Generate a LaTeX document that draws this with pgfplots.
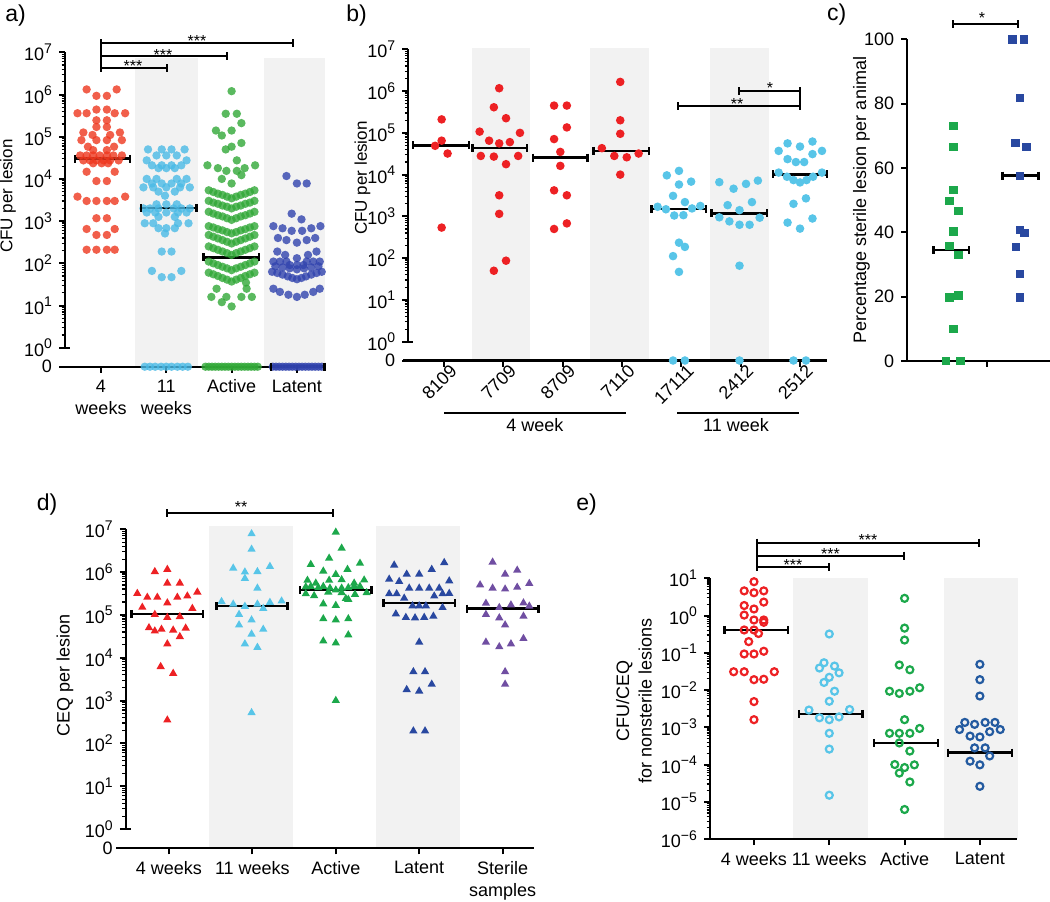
\documentclass[border=0pt]{standalone}
\usepackage{fontspec}
\setmainfont{Liberation Sans}
\usepackage{pgfplots}
\pgfplotsset{compat=1.18}

\definecolor{bandgray}{RGB}{242,242,242}
\definecolor{aRed}{RGB}{238,55,30}
\definecolor{aBlue}{RGB}{74,186,230}
\definecolor{aGreen}{RGB}{49,168,55}
\definecolor{aNavy}{RGB}{49,67,174}
\definecolor{pRed}{RGB}{237,33,36}
\definecolor{pBlue}{RGB}{88,197,232}
\definecolor{pGreen}{RGB}{28,168,75}
\definecolor{pNavy}{RGB}{41,72,160}
\definecolor{pPurple}{RGB}{112,78,162}
\definecolor{eBlue}{RGB}{35,90,160}

% power of ten as a tick label, in the text font
\newcommand\pw[1]{10\raisebox{0.42em}{\fontsize{7}{7}\selectfont #1}}

\pgfplotsset{
  panel/.style={scale only axis, clip=false, anchor=south west,
    axis x line*=bottom, axis y line*=left, axis line style={draw=none},
    tick align=outside, major tick length=3pt, minor tick length=1.7pt,
    major tick style={black, line width=1pt},
    minor tick style={black, line width=0.6pt},
    tick label style={font=\fontsize{9}{11}\selectfont},
    xticklabel style={align=center}},
  logten/.style={ymin=0.3548, ymax=1e7,
    ytick={0.3548,1,10,100,1000,10000,100000,1000000,10000000},
    yticklabels={0,\pw{0},\pw{1},\pw{2},\pw{3},\pw{4},\pw{5},\pw{6},\pw{7}},
    minor ytick={2,3,4,5,6,7,8,9,20,30,40,50,60,70,80,90,200,300,400,500,600,700,800,900,
      2000,3000,4000,5000,6000,7000,8000,9000,2e4,3e4,4e4,5e4,6e4,7e4,8e4,9e4,
      2e5,3e5,4e5,5e5,6e5,7e5,8e5,9e5,2e6,3e6,4e6,5e6,6e6,7e6,8e6,9e6}},
  adot/.style={only marks, mark=*, mark size=2.1pt, mark options={draw=#1, draw opacity=0, fill=#1, fill opacity=0.8}},
  bdot/.style={only marks, mark=*, mark size=2.15pt, mark options={draw=#1, draw opacity=0, fill=#1}},
  csq/.style={only marks, mark=square*, mark size=2.1pt, mark options={draw=#1, draw opacity=0, fill=#1}},
  dtri/.style={only marks, mark=triangle*, mark size=2.4pt, mark options={draw=#1, draw opacity=0, fill=#1}},
  ering/.style={only marks, mark=o, mark size=1.75pt, mark options={draw=#1, line width=1.1pt, fill=none}},
  med/.style={black, line width=1.3pt, mark=|, mark size=2pt, mark options={line width=1.2pt}},
}

\begin{document}
\begin{tikzpicture}
\path[use as bounding box] (0,0) rectangle (525pt,-450.5pt);

% shaded columns and axis lines, in pixel units of the reference
\begin{scope}[x=0.5pt,y=-0.5pt]
\fill[bandgray] (135,58) rectangle (198,366.7);
\fill[bandgray] (264.3,58) rectangle (325,366.7);
\fill[bandgray] (472,48) rectangle (530,360.5);
\fill[bandgray] (590,48) rectangle (649,360.5);
\fill[bandgray] (710,48) rectangle (769,360.5);
\fill[bandgray] (208.9,525.8) rectangle (292.8,848.3);
\fill[bandgray] (375.9,525.8) rectangle (459.8,848.3);
\fill[bandgray] (793,578.3) rectangle (868,839);
\fill[bandgray] (944,578.3) rectangle (1018,839);
\begin{scope}[line width=1.1pt]
\draw (65,52.3) -- (65,347.7);  \draw (60,347.7) -- (70,347.7);  \draw (59,366.7) -- (325,366.7);
\draw (408.3,49.3) -- (408.3,341.7);  \draw (403.3,341.7) -- (413.3,341.7);  \draw (403,360.5) -- (827,360.5);
\draw (907.3,39.3) -- (907.3,361);  \draw (907.3,361) -- (1050,361);  \draw (986.7,361) -- (986.7,367);
\draw (125.8,529.2) -- (125.8,829);  \draw (120.8,829) -- (130.8,829);  \draw (116,848.3) -- (534.3,848.3);
\draw (710,578.3) -- (710,839);  \draw (710,839) -- (1017,839);
\end{scope}
\end{scope}

% a) CFU per lesion
\begin{axis}[ymode=log, panel, logten, at={(32.5pt,-183.35pt)}, width=130pt, height=157.2pt,
  xmin=0.4487, xmax=4.4303, xtick={1,2,3,4},
  xticklabels={{4\\weeks},{11\\weeks},Active,Latent}]
\addplot[adot=aRed] coordinates {
(0.78,1.32e6) (1.24,1.32e6) (0.93,9.3e5) (1.09,9.3e5) (0.93,4.4e5) (1.09,4.4e5)
(0.64,3.6e5) (0.78,3.6e5) (1.21,3.6e5) (1.37,3.6e5) (0.93,2.45e5) (1.09,2.45e5)
(0.93,1.7e5) (1.09,1.7e5) (0.73,1.26e5) (1.29,1.26e5) (0.87,1.1e5) (1.14,1.1e5)
(0.70,8.3e4) (0.93,8.3e4) (1.09,8.3e4) (1.32,8.3e4) (0.80,5.8e4) (1.20,5.8e4)
(0.88,4.8e4) (1.09,4.8e4)
(0.68,3.6e4) (0.78,3.6e4) (0.88,3.6e4) (0.98,3.6e4) (1.09,3.6e4) (1.19,3.6e4) (1.32,3.6e4)
(0.73,2.75e4) (0.83,2.75e4) (0.93,2.75e4) (1.04,2.75e4) (1.14,2.75e4) (1.27,2.75e4)
(0.88,2.35e4) (1.01,2.35e4) (1.11,2.35e4) (0.78,1.48e4) (1.21,1.48e4)
(0.93,8.9e3) (1.09,8.9e3) (0.64,3.8e3) (1.37,3.8e3)
(0.78,3.0e3) (0.93,3.0e3) (1.09,3.0e3) (1.21,3.0e3) (0.93,1.17e3) (1.09,1.17e3)
(0.78,650) (1.21,650) (0.93,470) (1.09,470)
(0.78,210) (0.93,210) (1.09,210) (1.21,210)
};
\addplot[adot=aBlue] coordinates {
(1.72,5e4) (1.93,5e4) (2.08,5e4) (2.28,5e4) (1.85,3.6e4) (2.00,3.6e4) (2.16,3.6e4)
(1.70,2.75e4) (2.31,2.75e4) (1.78,2.1e4) (1.93,2.1e4) (2.08,2.1e4) (2.23,2.1e4)
(1.88,1.8e4) (2.00,1.8e4) (2.13,1.8e4) (1.70,1e4) (1.85,1e4) (2.16,1e4) (2.31,1e4)
(1.78,7.8e3) (1.93,7.8e3) (2.08,7.8e3) (2.23,7.8e3)
(1.65,6.3e3) (1.80,6.3e3) (2.00,6.3e3) (2.21,6.3e3) (2.36,6.3e3)
(1.88,5e3) (2.13,5e3) (1.98,4e3) (1.85,2.5e3) (2.00,2.5e3) (2.16,2.5e3)
(1.65,2e3) (1.75,2e3) (1.88,2e3) (2.11,2e3) (2.23,2e3) (2.36,2e3)
(1.70,1.6e3) (1.83,1.6e3) (2.00,1.6e3) (2.18,1.6e3) (2.31,1.6e3)
(1.88,1.26e3) (2.13,1.26e3) (1.67,890) (1.80,890) (2.18,890) (2.34,890)
(1.88,680) (2.00,680) (2.13,680) (1.98,510) (1.93,190) (2.08,190)
(1.78,66) (2.23,66) (1.93,47) (2.08,47)
(1.67,0.3548) (1.75,0.3548) (1.83,0.3548) (1.92,0.3548) (2.00,0.3548) (2.08,0.3548) (2.17,0.3548) (2.25,0.3548) (2.33,0.3548)
};
\addplot[adot=aGreen] coordinates {
(3.00,1.2e6) (2.91,3.5e5) (3.08,3.5e5) (3.15,2.1e5) (2.76,1.4e5) (3.00,1.4e5) (2.85,1.07e5)
(3.15,7.1e4) (3.00,5.8e4) (2.91,5.0e4) (3.08,2.75e4) (2.63,2.1e4) (3.36,2.1e4)
(2.79,1.8e4) (3.20,1.8e4) (2.92,1.55e4) (3.08,1.55e4) (3.15,1.23e4) (2.85,1.0e4) (3.00,7.8e3)
(2.65,5370) (2.72,4900) (2.79,4470) (2.86,4170) (2.93,3800) (3.00,3470) (3.07,3800) (3.14,4170) (3.21,4470) (3.28,4900) (3.35,5370)
(2.65,3020) (2.72,2750) (2.79,2570) (2.86,2340) (2.93,2190) (3.00,2000) (3.07,2190) (3.14,2340) (3.21,2570) (3.28,2750) (3.35,3020)
(2.65,1660) (2.72,1510) (2.79,1380) (2.86,1290) (2.93,1170) (3.00,1070) (3.07,1170) (3.14,1290) (3.21,1380) (3.28,1510) (3.35,1660)
(2.65,759) (2.72,708) (2.79,646) (2.86,603) (2.93,550) (3.00,513) (3.07,550) (3.14,603) (3.21,646) (3.28,708) (3.35,759)
(2.65,468) (2.72,427) (2.79,389) (2.86,355) (2.93,324) (3.00,295) (3.07,324) (3.14,355) (3.21,389) (3.28,427) (3.35,468)
(2.65,251) (2.72,229) (2.79,209) (2.86,191) (2.93,174) (3.00,158) (3.07,174) (3.14,191) (3.21,209) (3.28,229) (3.35,251)
(2.65,110) (2.72,100) (2.79,91) (2.86,83) (2.93,76) (3.00,69) (3.07,76) (3.14,83) (3.21,91) (3.28,100) (3.35,110)
(2.65,60) (2.72,55) (2.79,50) (2.86,45) (2.93,41) (3.00,37) (3.07,41) (3.14,45) (3.21,50) (3.28,55) (3.35,60)
(3.22,35) (2.77,25) (3.23,25) (2.69,16) (2.92,16) (3.15,16) (3.31,16) (2.85,12) (3.00,9.5)
(2.60,0.3548) (2.65,0.3548) (2.70,0.3548) (2.75,0.3548) (2.80,0.3548) (2.85,0.3548) (2.90,0.3548) (2.95,0.3548) (3.00,0.3548)
(3.05,0.3548) (3.10,0.3548) (3.15,0.3548) (3.20,0.3548) (3.25,0.3548) (3.30,0.3548) (3.35,0.3548) (3.40,0.3548)
};
\addplot[adot=aNavy] coordinates {
(3.84,1.17e4) (4.00,7.8e3) (4.15,7.8e3) (3.92,1.5e3) (4.07,1.1e3)
(3.64,760) (3.78,676) (3.92,589) (4.08,589) (4.22,676) (4.36,760)
(3.71,398) (3.84,355) (4.00,309) (4.15,355) (4.28,398)
(3.70,190) (3.82,158) (4.00,132) (4.17,158) (4.30,190)
(3.64,110) (3.74,110) (3.84,110) (3.89,91) (4.00,91) (4.10,91) (4.15,110) (4.25,110) (4.35,110)
(3.67,85) (3.78,80) (3.89,76) (4.00,72) (4.11,76) (4.22,80) (4.33,85)
(3.62,63) (3.70,59) (3.78,54) (3.86,49) (3.93,45) (4.00,42) (4.07,45) (4.14,49) (4.22,54) (4.30,59) (4.38,63)
(3.64,25) (3.74,21) (3.87,18) (4.00,16) (4.12,18) (4.25,21) (4.35,25)
(3.63,0.3548) (3.68,0.3548) (3.73,0.3548) (3.78,0.3548) (3.83,0.3548) (3.88,0.3548) (3.93,0.3548) (3.98,0.3548)
(4.03,0.3548) (4.08,0.3548) (4.13,0.3548) (4.18,0.3548) (4.23,0.3548) (4.28,0.3548) (4.33,0.3548) (4.38,0.3548)
};
\addplot[med] coordinates {(0.60,3.0e4) (1.44,3.0e4)};
\addplot[med] coordinates {(1.61,2.05e3) (2.46,2.05e3)};
\addplot[med] coordinates {(2.57,138) (3.42,138)};
\addplot[med] coordinates {(3.60,0.3548) (4.42,0.3548)};
\end{axis}

% b) CFU per lesion by animal
\begin{axis}[ymode=log, panel, logten, at={(204.15pt,-180.25pt)}, width=209.35pt, height=155.6pt,
  xmin=0.398, xmax=7.455, xtick={1,2,3,4,5,6,7},
  xticklabels={8109,7709,8709,7110,17111,2412,2512},
  xticklabel style={rotate=45, anchor=north east, inner sep=0.5pt, xshift=3.5pt}]
\addplot[bdot=pRed] coordinates {
(0.85,4.9e4) (0.96,6.5e4) (0.96,2.1e5) (1.06,3.2e4) (0.96,540)
(1.93,1.17e6) (1.84,4.1e5) (2.045,2.24e5) (1.60,1.07e5) (2.28,1.0e5) (1.76,6.5e4) (1.93,5.6e4) (2.11,6.0e4)
(1.62,2.8e4) (1.84,2.7e4) (2.25,2.8e4) (2.045,1.78e4) (1.93,3.2e3) (1.93,1.15e3) (2.045,87) (1.84,50)
(2.855,4.5e5) (3.07,4.5e5) (3.07,1.35e5) (2.855,7.1e4) (2.96,3.5e4) (2.96,1.62e4) (2.855,4.2e3) (3.07,3.2e3) (3.07,680) (2.855,500)
(3.97,1.66e6) (3.97,2.0e5) (3.97,9.5e4) (3.66,4.3e4) (3.87,2.8e4) (4.08,2.6e4) (4.28,3.2e4) (3.97,1.0e4)
};
\addplot[bdot=pBlue] coordinates {
(4.755,9.6e3) (4.96,1.23e4) (4.96,5.8e3) (5.165,6.8e3) (4.86,3.1e3) (5.06,2.2e3) (4.60,1.7e3) (4.74,1.48e3)
(5.18,1.55e3) (5.32,1.78e3) (4.88,1.05e3) (5.035,1.07e3) (4.96,235) (5.06,186) (4.86,112) (4.96,47)
(4.86,0.3548) (5.06,0.3548)
(5.64,6.6e3) (5.88,4.6e3) (6.09,6.0e3) (6.29,7.2e3) (5.78,1.86e3) (5.98,1.41e3) (6.19,2.2e3)
(5.64,950) (5.81,760) (5.98,630) (6.15,630) (6.32,930) (5.98,66) (5.98,0.3548)
(6.64,3.7e4) (6.79,5.6e4) (7.00,4.7e4) (7.21,6.2e4) (7.37,3.7e4) (6.79,2.35e4) (6.93,2.0e4) (7.07,2.0e4) (7.21,3.1e4)
(6.64,1.12e4) (6.78,8.9e3) (6.89,7.4e3) (7.00,6.5e3) (7.11,7.4e3) (7.22,8.9e3) (7.37,1.12e4)
(6.89,2.0e3) (7.10,2.7e3) (6.79,710) (7.21,890) (7.00,510) (6.89,0.3548) (7.10,0.3548)
};
\addplot[med] coordinates {(0.48,5.0e4) (1.42,5.0e4)};
\addplot[med] coordinates {(1.48,4.3e4) (2.40,4.3e4)};
\addplot[med] coordinates {(2.50,2.55e4) (3.42,2.55e4)};
\addplot[med] coordinates {(3.52,3.7e4) (4.45,3.7e4)};
\addplot[med] coordinates {(4.50,1.5e3) (5.42,1.5e3)};
\addplot[med] coordinates {(5.51,1.18e3) (6.44,1.18e3)};
\addplot[med] coordinates {(6.54,1.02e4) (7.45,1.02e4)};
\end{axis}

% c) percentage sterile lesions
\begin{axis}[panel, at={(453.65pt,-180.5pt)}, width=71.35pt, height=160.85pt,
  xmin=0.31, xmax=2.45, ymin=0, ymax=100,
  xtick={1,2}, xticklabels={Active,Latent}, xmajorticks=false,
  ytick={0,20,40,60,80,100}, yticklabels={0,20,40,60,80,100}]
\addplot[csq=pGreen] coordinates {
(1.00,73.1) (1.00,66.5) (1.00,53.2) (0.94,49.8) (1.075,46.7) (1.00,40.3) (0.94,35.7)
(1.075,32.9) (1.075,20.4) (0.94,19.7) (1.00,10.0) (0.89,0) (1.11,0)
};
\addplot[csq=pNavy] coordinates {
(1.89,100) (2.06,100) (2.00,81.7) (1.93,67.7) (2.10,66.6) (2.00,57.6)
(2.00,40.7) (2.065,39.7) (1.94,35.5) (2.00,27.0) (2.00,19.8)
};
\addplot[med] coordinates {(0.70,34.5) (1.235,34.5)};
\addplot[med] coordinates {(1.735,57.6) (2.275,57.6)};
\end{axis}

% d) CEQ per lesion
\begin{axis}[ymode=log, panel, logten, at={(62.9pt,-424.15pt)}, width=204.25pt, height=159.55pt,
  xmin=0.482, xmax=5.38, xtick={1,2,3,4,5},
  xticklabels={4 weeks,11 weeks,Active,Latent,{Sterile\\samples}}]
\addplot[dtri=pRed] coordinates {
(0.83,1.02e6) (0.98,1.15e6) (0.98,5.5e5) (1.13,5.5e5) (0.62,3.16e5) (1.34,3.4e5)
(0.74,2.57e5) (0.86,2.57e5) (1.10,2.57e5) (1.22,2.75e5) (0.98,1.9e5) (0.68,1.5e5) (1.28,1.41e5)
(0.83,1.02e5) (0.98,8.7e4) (1.13,9.1e4) (0.76,5.0e4) (0.83,4.2e4) (0.91,4.6e4) (1.05,4.4e4) (1.20,4.9e4)
(1.13,3.1e4) (0.98,2.1e4) (0.90,6.2e3) (1.05,4.3e3) (0.98,350)
};
\addplot[dtri=pBlue] coordinates {
(1.99,7.8e6) (1.99,3.4e6) (1.77,1.23e6) (2.21,1.35e6) (1.91,1.0e6) (2.06,1.02e6) (1.91,7.1e5) (2.06,4.2e5)
(1.63,2.04e5) (1.77,1.78e5) (1.91,1.58e5) (2.06,1.78e5) (2.21,1.95e5) (2.35,2.1e5)
(2.13,1.41e5) (1.84,1.02e5) (1.99,7.6e4) (1.84,5.8e4) (2.13,4.6e4) (1.99,3.55e4) (1.91,2.1e4) (2.06,1.74e4) (1.99,520)
};
\addplot[dtri=pGreen] coordinates {
(3.00,8.5e6) (3.07,3.6e6) (2.92,2.1e6) (2.70,1.5e6) (3.29,1.6e6) (2.85,1.05e6) (3.14,1.15e6) (3.00,8.8e5)
(2.66,6.4e5) (2.76,5.5e5) (2.92,6.4e5) (3.07,6.6e5) (3.22,5.5e5) (3.34,6.5e5)
(2.64,4.5e5) (2.70,4.6e5) (2.79,4.3e5) (2.85,4.6e5) (2.93,4.2e5) (3.00,3.8e5) (3.07,4.2e5) (3.15,4.3e5) (3.22,4.6e5) (3.29,4.6e5)
(2.64,3.1e5) (2.74,2.8e5) (2.91,3.4e5) (3.07,3.3e5) (3.23,3.0e5) (3.37,3.3e5)
(3.12,2.4e5) (2.85,1.8e5) (3.00,1.66e5) (3.15,2.3e5) (2.85,8.1e4) (3.00,7.6e4) (3.15,8.1e4)
(3.15,3.4e4) (2.85,2.45e4) (3.00,2.2e4) (3.00,1.0e3)
};
\addplot[dtri=pNavy] coordinates {
(3.70,1.45e6) (4.30,1.66e6) (3.85,8.9e5) (4.00,8.9e5) (4.15,1.15e6) (3.64,6.8e5) (3.76,6.0e5) (4.36,6.2e5)
(3.88,4.2e5) (4.00,4.2e5) (4.12,4.2e5) (4.24,4.2e5) (3.64,3.1e5) (3.73,3.1e5) (3.82,2.45e5) (4.18,2.75e5) (4.28,3.1e5) (4.36,3.16e5)
(3.92,1.62e5) (4.00,1.62e5) (4.08,1.62e5) (4.28,1.48e5) (3.72,1.05e5) (3.84,8.7e4) (3.95,8.5e4) (4.06,8.7e4) (4.17,9.3e4)
(4.00,2.3e4) (3.93,4.7e3) (4.07,4.7e3) (3.85,1.8e3) (4.00,1.66e3) (4.15,2.4e3) (3.93,195) (4.07,195)
};
\addplot[dtri=pPurple] coordinates {
(4.88,1.7e6) (5.03,8.9e5) (5.175,1.1e6) (4.73,5.0e5) (4.88,4.2e5) (5.03,4.0e5) (5.175,4.4e5) (5.32,5.4e5)
(4.80,1.86e5) (4.96,1.48e5) (5.10,1.7e5) (5.25,1.9e5) (5.32,1.6e5) (4.80,1.02e5) (4.96,8.5e4) (5.25,9.3e4)
(5.03,5.8e4) (4.80,2.3e4) (4.96,1.8e4) (5.10,2.1e4) (5.25,2.8e4) (5.03,4.7e3) (5.03,2.4e3)
};
\addplot[med] coordinates {(0.55,1.05e5) (1.41,1.05e5)};
\addplot[med] coordinates {(1.57,1.62e5) (2.42,1.62e5)};
\addplot[med] coordinates {(2.57,3.8e5) (3.43,3.8e5)};
\addplot[med] coordinates {(3.57,1.9e5) (4.43,1.9e5)};
\addplot[med] coordinates {(4.57,1.4e5) (5.43,1.4e5)};
\end{axis}

% e) CFU/CEQ
\begin{axis}[ymode=log, panel, at={(355pt,-419.5pt)}, width=153.5pt, height=130.35pt,
  xmin=0.416, xmax=4.493, ymin=1e-6, ymax=10, xtick={1,2,3,4},
  xticklabels={4 weeks,11 weeks,Active,Latent},
  ytick={1e-6,1e-5,1e-4,1e-3,1e-2,0.1,1,10},
  yticklabels={\pw{−6},\pw{−5},\pw{−4},\pw{−3},\pw{−2},\pw{−1},\pw{0},\pw{1}},
  minor ytick={2e-6,3e-6,4e-6,5e-6,6e-6,7e-6,8e-6,9e-6,2e-5,3e-5,4e-5,5e-5,6e-5,7e-5,8e-5,9e-5,
    2e-4,3e-4,4e-4,5e-4,6e-4,7e-4,8e-4,9e-4,2e-3,3e-3,4e-3,5e-3,6e-3,7e-3,8e-3,9e-3,
    0.02,0.03,0.04,0.05,0.06,0.07,0.08,0.09,0.2,0.3,0.4,0.5,0.6,0.7,0.8,0.9,2,3,4,5,6,7,8,9}]
\addplot[ering=pRed] coordinates {
(1.00,8.1) (0.87,4.6) (1.00,4.1) (1.13,4.6) (1.13,2.3) (0.87,1.86) (1.00,1.5) (0.87,1.03)
(1.00,0.76) (1.13,0.76) (1.13,0.66) (0.87,0.41) (1.00,0.41) (1.06,0.33) (0.93,0.20)
(0.87,0.093) (1.00,0.093) (1.13,0.11) (0.73,0.031) (0.87,0.031) (1.27,0.031)
(1.00,0.019) (1.13,0.0195) (1.00,0.0049) (1.00,0.0016)
};
\addplot[ering=pBlue] coordinates {
(2.00,0.32) (1.93,0.054) (2.07,0.044) (1.87,0.039) (2.13,0.029) (2.00,0.022) (1.93,0.016) (2.07,0.0093)
(2.00,0.0050) (1.73,0.0029) (2.27,0.003) (1.87,0.0018) (2.00,0.0016) (2.13,0.0019) (2.00,6.9e-4) (2.00,2.6e-4) (2.00,1.5e-5)
};
\addplot[ering=pGreen] coordinates {
(3.00,2.9) (3.00,0.46) (3.00,0.22) (2.93,0.047) (3.07,0.035) (2.80,0.0093) (2.93,0.0081) (3.07,0.0093) (3.20,0.0115)
(3.00,0.0016) (2.80,6.9e-4) (2.93,6.9e-4) (3.07,6.9e-4) (3.20,9.3e-4) (2.93,3.8e-4) (3.07,2.3e-4)
(2.87,1.0e-4) (3.00,8.3e-5) (3.13,9.8e-5) (2.93,5.9e-5) (3.07,3.4e-5) (3.00,6.2e-6)
};
\addplot[ering=eBlue] coordinates {
(4.00,0.049) (4.00,0.019) (4.00,0.0069) (3.80,0.00135) (3.93,0.0012) (4.07,0.00135) (4.20,0.00135)
(3.73,8.7e-4) (3.87,5.8e-4) (4.00,5.5e-4) (4.13,7.6e-4) (4.27,8.7e-4) (3.93,2.8e-4) (4.07,2.8e-4)
(3.87,1.23e-4) (4.00,9.8e-5) (4.13,1.7e-4) (4.00,2.6e-5)
};
\addplot[med] coordinates {(0.61,0.41) (1.45,0.41)};
\addplot[med] coordinates {(1.60,2.3e-3) (2.44,2.3e-3)};
\addplot[med] coordinates {(2.59,3.8e-4) (3.44,3.8e-4)};
\addplot[med] coordinates {(3.58,2.1e-4) (4.43,2.1e-4)};
\end{axis}

% annotations
\begin{scope}[x=0.5pt,y=-0.5pt]
\begin{scope}[line width=1pt]
\draw (101,39.3) -- (101,72.3);
\draw (101,43.3) -- (293,43.3);  \draw (293,39.3) -- (293,47.3);
\draw (101,56) -- (227.3,56);  \draw (227.3,52) -- (227.3,60);
\draw (101,68.3) -- (166.7,68.3);  \draw (166.7,64.3) -- (166.7,72.3);
\draw (739.3,87.3) -- (739.3,95.3);  \draw (739.3,91.3) -- (800,91.3);  \draw (800,87.3) -- (800,110);
\draw (678.3,102) -- (678.3,110);  \draw (678.3,106) -- (800,106);
\draw (953.3,20) -- (953.3,28);  \draw (953.3,24) -- (1018,24);  \draw (1018,20) -- (1018,28);
\draw (167,509.3) -- (167,517.3);  \draw (167,513.3) -- (333.3,513.3);  \draw (333.3,509.3) -- (333.3,517.3);
\draw (756.7,538.7) -- (756.7,571.3);
\draw (756.7,542.7) -- (979.3,542.7);  \draw (979.3,538.7) -- (979.3,546.7);
\draw (756.7,555.7) -- (904.3,555.7);  \draw (904.3,551.7) -- (904.3,559.7);
\draw (756.7,567.3) -- (829.3,567.3);  \draw (829.3,563.3) -- (829.3,571.3);
\draw (444,413) -- (626,413);  \draw (677,413) -- (799.3,413);
\end{scope}
\begin{scope}[every node/.style={font=\fontsize{8}{8}\selectfont, inner sep=0pt, anchor=base}]
\node at (133,71.2) {***};  \node at (163,60.2) {***};  \node at (197,46.2) {***};
\node at (770,93.2) {*};  \node at (737,109.2) {**};
\node at (982,23.2) {*};
\node at (241,512.2) {**};
\node at (793,570.9) {***};  \node at (830.5,559.2) {***};  \node at (868,545.2) {***};
\end{scope}
\begin{scope}[every node/.style={font=\fontsize{9}{11}\selectfont, inner sep=0pt}]
\node at (535,425) {4 week};
\node at (736,425) {11 week};
\node[rotate=90, font=\fontsize{8.5}{10}\selectfont] at (8,196) {CFU per lesion};
\node[rotate=90, font=\fontsize{8.5}{10}\selectfont] at (362.5,178) {CFU per lesion};
\node[rotate=90] at (861.5,200) {Percentage sterile lesion per animal};
\node[rotate=90] at (65,675) {CEQ per lesion};
\node[rotate=90, align=center, font=\fontsize{9}{11.3}\selectfont] at (634,701) {CFU/CEQ\\for nonsterile lesions};
\end{scope}
\begin{scope}[every node/.style={font=\fontsize{11.5}{12}\selectfont, inner sep=0pt, anchor=base west}]
\node at (5,21.7) {a)};
\node at (346,21.7) {b)};
\node at (826.7,20.7) {c)};
\node at (36.5,510) {d)};
\node at (576,510) {e)};
\end{scope}
\end{scope}
\end{tikzpicture}
\end{document}
